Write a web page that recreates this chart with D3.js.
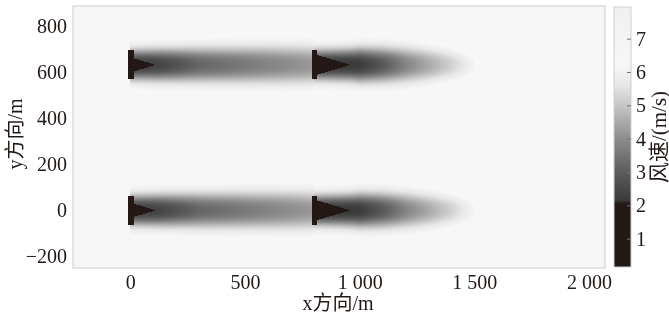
<!DOCTYPE html>
<html>
<head>
<meta charset="utf-8">
<script src="https://cdn.jsdelivr.net/npm/d3@7"></script>
<style>
  body { margin: 0; background: #fff; }
  #wrap { position: relative; width: 669px; height: 315px; }
  canvas, svg { position: absolute; left: 0; top: 0; }
</style>
</head>
<body>
<div id="wrap"></div>
<script>
// Turbine layout (m)
const turbineX = [0, 800];
const turbineY = [0, 630];
const rotorD = 126;
const freeSpeed = 6.5;

// Dark near-wake cone behind each column of rotors
const coreLength = [110, 160];
const coreHalfBase = [33, 47];

const wake1Dist  = [0, 120, 300, 500, 700, 800];
const wake1Speed = [2.2, 2.4, 3.2, 3.6, 4.0, 4.2];
const wake1Half  = [62, 66, 72, 76, 80, 80];

const wake2Dist  = [0, 160, 200, 300, 400, 500, 600, 680, 740];
const wake2Speed = [2.1, 2.15, 2.2, 2.9, 3.8, 4.5, 5.2, 5.9, 6.5];
const wake2Half  = [62, 66, 70, 72, 72, 68, 60, 50, 42];

// Colour bar stops
const cbValues = [0.15, 2.05, 2.15, 3, 4, 5, 5.6, 6.2, 7.95];
const cbColors = ["#231815", "#231815", "#3b3a3a", "#5c5c5c", "#8d8d8d",
                  "#c6c6c6", "#e6e6e6", "#f7f7f7", "#f0f0f0"];
const cbTicks = [1, 2, 3, 4, 5, 6, 7];

// Axis ticks
const xTicks = [0, 500, 1000, 1500, 2000];
const yTicks = [-200, 0, 200, 400, 600, 800];

const width = 669, height = 315;
const font = "'Liberation Serif', 'Times New Roman', 'Noto Sans CJK SC', serif";

const x = d3.scaleLinear().domain([-250, 2070]).range([73, 605]);
const y = d3.scaleLinear().domain([-250, 885]).range([268, 6]);
const color = d3.scaleLinear().domain(cbValues).range(cbColors).clamp(true);
const cb = d3.scaleLinear().domain([0.15, 7.95]).range([267, 7]);

const wakes = [
  { len: 800,
    speed: d3.scaleLinear().domain(wake1Dist).range(wake1Speed).clamp(true),
    half: d3.scaleLinear().domain(wake1Dist).range(wake1Half).clamp(true) },
  { len: 1300,
    speed: d3.scaleLinear().domain(wake2Dist).range(wake2Speed).clamp(true),
    half: d3.scaleLinear().domain(wake2Dist).range(wake2Half).clamp(true) }
];

function turbineSpeed(c, r, px, py) {
  const dx = px - turbineX[c];
  const dy = Math.abs(py - turbineY[r]);
  if (dx >= -8 && dx <= 14 && dy <= rotorD / 2) return 0.5;
  if (dx < 0 || dx > wakes[c].len) return freeSpeed;
  if (dx <= coreLength[c] && dy <= coreHalfBase[c] * (1 - dx / coreLength[c])) return 0.9;
  const uc = wakes[c].speed(dx), w = wakes[c].half(dx);
  const f = 0.85 * Math.exp(-Math.pow(dy / w, 2.5)) + 0.15 * Math.exp(-Math.pow(dy / (1.8 * w), 2));
  return freeSpeed - (freeSpeed - uc) * f;
}

function speedAt(px, py) {
  let u = freeSpeed;
  for (let c = 0; c < turbineX.length; c++)
    for (let r = 0; r < turbineY.length; r++)
      u = Math.min(u, turbineSpeed(c, r, px, py));
  return u;
}

const wrap = d3.select("#wrap");
const canvas = wrap.append("canvas").attr("width", width).attr("height", height);
const ctx = canvas.node().getContext("2d");

// Field raster
const [x0, x1] = x.range(), [y1, y0] = y.range();
const img = ctx.createImageData(x1 - x0, y1 - y0);
for (let j = 0; j < y1 - y0; j++) {
  const vy = y.invert(y0 + j + 0.5);
  for (let i = 0; i < x1 - x0; i++) {
    const c = d3.rgb(color(speedAt(x.invert(x0 + i + 0.5), vy)));
    const k = 4 * (j * (x1 - x0) + i);
    img.data[k] = c.r; img.data[k + 1] = c.g; img.data[k + 2] = c.b; img.data[k + 3] = 255;
  }
}
ctx.putImageData(img, x0, y0);

// Colour bar raster
const cbX = 614, cbW = 17;
for (let py = 7; py < 267; py++) {
  ctx.fillStyle = color(cb.invert(py + 0.5));
  ctx.fillRect(cbX, py, cbW, 1);
}

const svg = wrap.append("svg").attr("width", width).attr("height", height);

svg.append("rect")
  .attr("x", x0).attr("y", y0).attr("width", x1 - x0).attr("height", y1 - y0)
  .attr("fill", "none").attr("stroke", "#dcdcdc").attr("stroke-width", 1.5);

svg.append("rect")
  .attr("x", cbX).attr("y", 7).attr("width", cbW).attr("height", 260)
  .attr("fill", "none").attr("stroke", "#cfcfcf").attr("stroke-width", 1);

const fmt = d3.formatLocale({ decimal: ".", thousands: " ", grouping: [3], currency: ["", ""] }).format(",");

const xAxis = svg.append("g")
  .attr("transform", "translate(0," + y1 + ")")
  .call(d3.axisBottom(x).tickValues(xTicks).tickFormat(fmt).tickSize(0).tickPadding(7));

const yAxis = svg.append("g")
  .attr("transform", "translate(" + x0 + ",0)")
  .call(d3.axisLeft(y).tickValues(yTicks).tickSize(0).tickPadding(6));

const cAxis = svg.append("g")
  .attr("transform", "translate(" + (cbX + cbW) + ",0)")
  .call(d3.axisRight(cb).tickValues(cbTicks).tickSize(-4).tickPadding(5));

[xAxis, yAxis, cAxis].forEach(function(g) {
  g.select(".domain").remove();
  g.selectAll("text")
    .style("font-family", font)
    .style("font-size", "20px")
    .attr("fill", "#231815");
});
cAxis.selectAll("line").attr("stroke", "#777");

// Axis titles
svg.append("text")
  .attr("x", 338).attr("y", 310)
  .attr("text-anchor", "middle")
  .style("font-family", font).style("font-size", "20px")
  .attr("fill", "#231815")
  .text("x方向/m");

svg.append("text")
  .attr("transform", "translate(22,134) rotate(-90)")
  .attr("text-anchor", "middle")
  .style("font-family", font).style("font-size", "20px")
  .attr("fill", "#231815")
  .text("y方向/m");

svg.append("text")
  .attr("transform", "translate(666,137) rotate(-90)")
  .attr("text-anchor", "middle")
  .style("font-family", font).style("font-size", "21px")
  .attr("fill", "#231815")
  .text("风速/(m/s)");
</script>
</body>
</html>
